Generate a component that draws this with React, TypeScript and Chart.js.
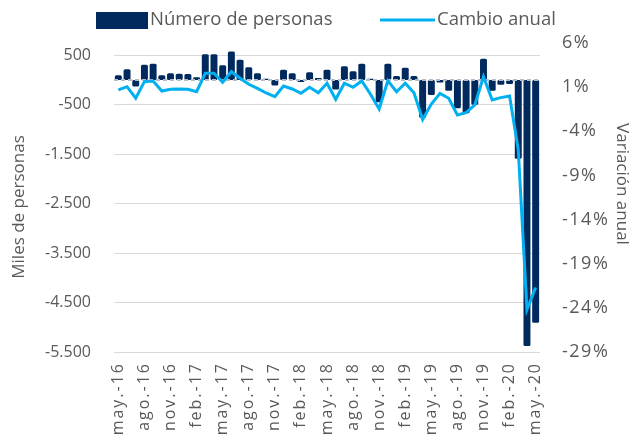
import React, { useEffect, useRef } from "react";
import { Chart, registerables } from "chart.js";

Chart.register(...registerables);

const categories = [
  "may.-16", "jun.-16", "jul.-16", "ago.-16", "sep.-16", "oct.-16", "nov.-16", "dic.-16",
  "ene.-17", "feb.-17", "mar.-17", "abr.-17", "may.-17", "jun.-17", "jul.-17", "ago.-17",
  "sep.-17", "oct.-17", "nov.-17", "dic.-17", "ene.-18", "feb.-18", "mar.-18", "abr.-18",
  "may.-18", "jun.-18", "jul.-18", "ago.-18", "sep.-18", "oct.-18", "nov.-18", "dic.-18",
  "ene.-19", "feb.-19", "mar.-19", "abr.-19", "may.-19", "jun.-19", "jul.-19", "ago.-19",
  "sep.-19", "oct.-19", "nov.-19", "dic.-19", "ene.-20", "feb.-20", "mar.-20", "abr.-20",
  "may.-20",
];

const personas = [
  100, 220, -130, 310, 330, 100, 140, 130, 125, 55,
  520, 520, 300, 580, 410, 260, 140, 25, -110, 210,
  140, -40, 160, 40, 210, -190, 280, 180, 330, 25,
  -450, 330, 80, 250, 80, -760, -300, -50, -214, -570,
  -670, -500, 430, -214, -95, -78, -1590, -5380, -4910,
];

const cambioAnual = [
  0.7, 1.05, -0.26, 1.62, 1.7, 0.56, 0.76, 0.79, 0.76, 0.48,
  2.57, 2.57, 1.55, 2.75, 2.0, 1.32, 0.85, 0.34, -0.08, 1.13,
  0.79, 0.3, 0.98, 0.37, 1.44, -0.38, 1.44, 0.98, 1.7, 0.19,
  -1.47, 1.73, 0.48, 1.44, 0.37, -2.66, -0.91, 0.3, -0.26, -2.15,
  -1.89, -1.02, 2.18, -0.46, -0.19, 0.0, -6.1, -24.2, -21.7,
];

const leftTicks = [-5500, -4500, -3500, -2500, -1500, -500, 500];
const rightTicks = [-29, -24, -19, -14, -9, -4, 1, 6];
const leftTitle = "Miles de personas";
const rightTitle = "Variación anual";

const NAVY = "#002A5E";
const LIGHT = "#00B0F0";
const TEXT = "#595959";
const FONT = '"Open Sans", sans-serif';

function fmtThousands(v: number): string {
  const s = Math.abs(v).toString().replace(/\B(?=(\d{3})+(?!\d))/g, ".");
  return (v < 0 ? "-" : "") + s;
}

const zeroLinePlugin = {
  id: "zeroLine",
  beforeDatasetDraw(chart: any, args: any) {
    if (args.index !== 1) return;
    const y = chart.scales.y.getPixelForValue(0);
    const { left, right } = chart.chartArea;
    const ctx = chart.ctx;
    ctx.save();
    ctx.strokeStyle = "#b4bcc8";
    ctx.lineWidth = 2;
    ctx.setLineDash([4, 3]);
    ctx.beginPath();
    ctx.moveTo(left, y);
    ctx.lineTo(right, y);
    ctx.stroke();
    ctx.restore();
  },
};

const textPlugin = {
  id: "axisText",
  afterDraw(chart: any) {
    const ctx = chart.ctx;
    const xs = chart.scales.x;
    const y1 = chart.scales.y1;
    const area = chart.chartArea;
    ctx.save();
    ctx.fillStyle = TEXT;

    // x labels (rotated)
    ctx.font = `16px ${FONT}`;
    (ctx as any).letterSpacing = "2px";
    ctx.textAlign = "right";
    ctx.textBaseline = "middle";
    categories.forEach((lab, i) => {
      if (i % 3 !== 0) return;
      const x = xs.getPixelForValue(i);
      ctx.save();
      ctx.translate(x, area.bottom + 10);
      ctx.rotate(-Math.PI / 2);
      ctx.fillText(lab, 0, 0);
      ctx.restore();
    });

    // right tick labels
    ctx.font = `18px ${FONT}`;
    (ctx as any).letterSpacing = "1.5px";
    ctx.textAlign = "left";
    ctx.textBaseline = "middle";
    rightTicks.forEach((v) => {
      ctx.fillText(`${v}%`, area.right + 22, y1.getPixelForValue(v));
    });

    // axis titles
    (ctx as any).letterSpacing = "0px";
    ctx.font = `17px ${FONT}`;
    ctx.textAlign = "center";
    ctx.save();
    ctx.translate(19.5, 207);
    ctx.rotate(-Math.PI / 2);
    ctx.fillText(leftTitle, 0, 0);
    ctx.restore();
    ctx.save();
    ctx.translate(622, 184);
    ctx.rotate(Math.PI / 2);
    ctx.fillText(rightTitle, 0, 0);
    ctx.restore();

    // legend
    const ds = chart.data.datasets;
    ctx.font = `18.5px ${FONT}`;
    ctx.textAlign = "left";
    ctx.fillStyle = NAVY;
    ctx.fillRect(96, 12, 52, 17);
    ctx.fillStyle = TEXT;
    ctx.fillText(ds[0].label, 150, 20);
    ctx.strokeStyle = LIGHT;
    ctx.lineWidth = 3;
    ctx.beginPath();
    ctx.moveTo(380, 20);
    ctx.lineTo(435, 20);
    ctx.stroke();
    ctx.fillText(ds[1].label, 437, 20);
    ctx.restore();
  },
};

export default function App() {
  const ref = useRef<HTMLCanvasElement | null>(null);

  useEffect(() => {
    if (!ref.current) return;
    const chart = new Chart(ref.current, {
      type: "bar",
      data: {
        labels: categories,
        datasets: [
          {
            type: "bar",
            label: "Número de personas",
            data: personas,
            backgroundColor: NAVY,
            borderRadius: 1.5,
            borderSkipped: false,
            barPercentage: 0.8,
            categoryPercentage: 1,
            yAxisID: "y",
            order: 2,
          },
          {
            type: "line",
            label: "Cambio anual",
            data: cambioAnual,
            borderColor: LIGHT,
            backgroundColor: LIGHT,
            borderWidth: 3,
            pointRadius: 0,
            tension: 0,
            yAxisID: "y1",
            order: 1,
          },
        ],
      } as any,
      options: {
        responsive: false,
        animation: false,
        devicePixelRatio: 1,
        layout: { padding: { top: 43, left: 0, right: 0, bottom: 0 } },
        plugins: {
          legend: { display: false },
          tooltip: { enabled: false },
        },
        scales: {
          x: {
            grid: { display: false, drawTicks: false },
            border: { display: false },
            ticks: { display: false, autoSkip: false },
            afterFit: (s: any) => {
              s.height = 86;
            },
          },
          y: {
            position: "left",
            min: -5500,
            max: 750,
            grid: { color: "#d9d9d9", drawTicks: false, lineWidth: 1 },
            border: { display: false },
            afterBuildTicks: (s: any) => {
              s.ticks = leftTicks.map((v) => ({ value: v }));
            },
            ticks: {
              padding: 23,
              color: TEXT,
              font: { family: FONT, size: 16 },
              callback: (v: any) => fmtThousands(Number(v)),
            },
            afterFit: (s: any) => {
              s.width = 114;
            },
          },
          y1: {
            position: "right",
            min: -29,
            max: 6,
            grid: { display: false, drawTicks: false },
            border: { display: false },
            afterBuildTicks: (s: any) => {
              s.ticks = rightTicks.map((v) => ({ value: v }));
            },
            ticks: { display: false },
            afterFit: (s: any) => {
              s.width = 93;
            },
          },
        },
      } as any,
      plugins: [zeroLinePlugin, textPlugin],
    });
    return () => chart.destroy();
  }, []);

  return (
    <div
      style={{
        position: "absolute",
        left: 0,
        top: 0,
        width: 633,
        height: 438,
        overflow: "hidden",
        background: "#ffffff",
      }}
    >
      <canvas ref={ref} width={633} height={438} style={{ display: "block" }} />
    </div>
  );
}
